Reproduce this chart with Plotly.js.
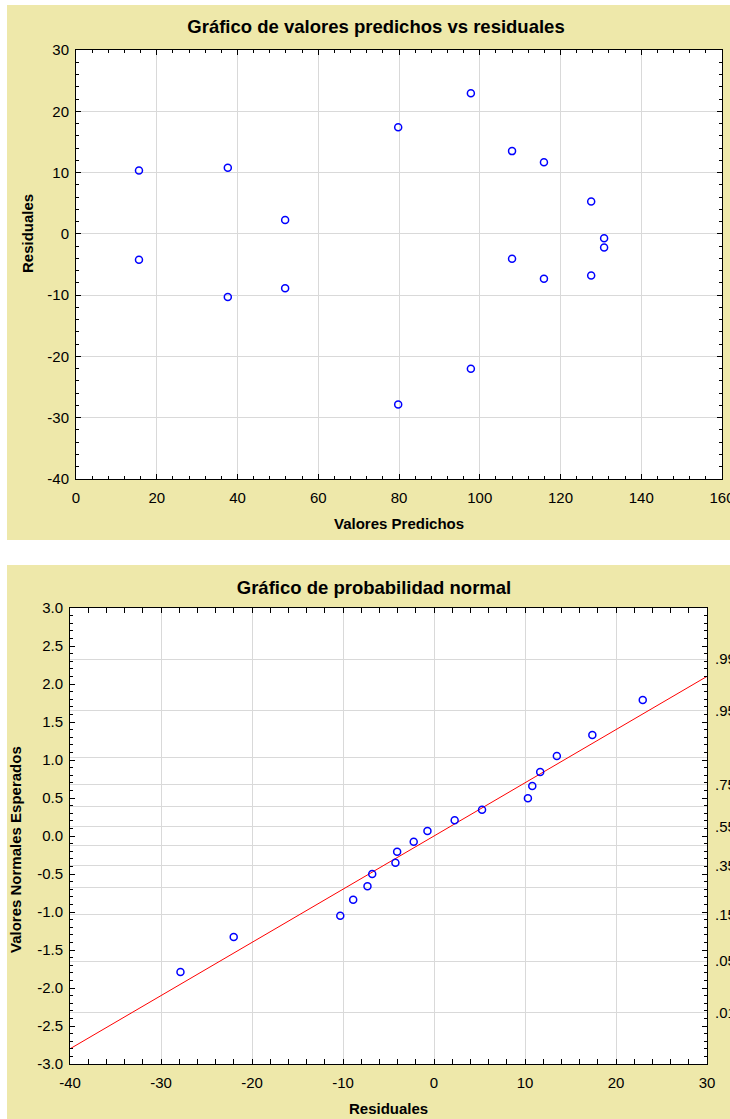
<!DOCTYPE html>
<html>
<head>
<meta charset="utf-8">
<script src="https://cdn.plot.ly/plotly-3.0.1.min.js"></script>
<style>
  html, body { margin:0; padding:0; background:#ffffff; overflow:hidden; width:730px; height:1119px; }
  #top { position:absolute; left:7px; top:5px; width:723px; height:535px; }
  #bottom { position:absolute; left:7px; top:565px; width:723px; height:554px; }
</style>
</head>
<body>
<div id="top"></div>
<div id="bottom"></div>
<script>
// ---- Data: predicted values vs residuals (top chart) ----
const predicted = [15.6, 15.6, 37.6, 37.6, 51.8, 51.8, 79.8, 79.8, 97.8, 97.8, 108.0, 108.0, 115.9, 115.9, 127.6, 127.6, 130.8, 130.8];
const residuals = [10.32, -4.24, 10.8, -10.3, 2.27, -8.88, 17.4, -27.86, 22.94, -22.01, 13.5, -4.05, 11.67, -7.31, 5.28, -6.79, -0.72, -2.23];

// ---- Data: normal probability plot (bottom chart) ----
const sortedResiduals = [-27.86, -22.01, -10.30, -8.88, -7.31, -6.79, -4.24, -4.05, -2.23, -0.72, 2.27, 5.28, 10.32, 10.8, 11.67, 13.5, 17.4, 22.94];
const expectedNormal = [-1.79, -1.33, -1.049, -0.838, -0.662, -0.50, -0.351, -0.207, -0.075, 0.066, 0.207, 0.346, 0.496, 0.658, 0.842, 1.053, 1.33, 1.79];
const fitLineX = [-40, 30];
const fitLineY = [-2.80, 2.10];

// ---- Tick labels ----
const topXTickVals = [0, 20, 40, 60, 80, 100, 120, 140, 160];
const topXTickText = ['0', '20', '40', '60', '80', '100', '120', '140', '160'];
const topYTickVals = [-40, -30, -20, -10, 0, 10, 20, 30];
const topYTickText = ['-40', '-30', '-20', '-10', '0', '10', '20', '30'];
const botXTickVals = [-40, -30, -20, -10, 0, 10, 20, 30];
const botXTickText = ['-40', '-30', '-20', '-10', '0', '10', '20', '30'];
const botYTickVals = [-3, -2.5, -2, -1.5, -1, -0.5, 0, 0.5, 1, 1.5, 2, 2.5, 3];
const botYTickText = ['-3.0', '-2.5', '-2.0', '-1.5', '-1.0', '-0.5', '0.0', '0.5', '1.0', '1.5', '2.0', '2.5', '3.0'];
const probTickVals = [2.3263, 1.6449, 1.0364, 0.6745, 0.3853, 0.1257, -0.1257, -0.3853, -0.6745, -1.0364, -1.6449, -2.3263];
const probTickText = ['.99', '.95', '', '.75', '', '.55', '', '.35', '', '.15', '.05', '.01'];

const BEIGE = '#eee8aa';
const GRID = '#d9d9d9';
const FONT = 'Liberation Sans, Arial, Helvetica, sans-serif';
const TICKSIZE = 15;
const AXTITLESIZE = 15;
const TITLESIZE = 18.5;

function axisBase(extra) {
  return Object.assign({
    ticks: 'inside', ticklen: 5, tickwidth: 1, tickcolor: '#000',
    showline: true, linecolor: '#000', linewidth: 1, mirror: 'allticks',
    showgrid: true, gridcolor: GRID, gridwidth: 1, zeroline: false,
    tickmode: 'array', fixedrange: true, automargin: false,
    ticklabeloverflow: 'allow',
    tickfont: { family: FONT, size: TICKSIZE, color: '#000' }
  }, extra);
}

// ---- Top chart ----
Plotly.newPlot('top', [{
  type: 'scatter', mode: 'markers',
  x: predicted, y: residuals,
  marker: { symbol: 'circle-open', size: 7, color: '#0000ff', line: { width: 1.5, color: '#0000ff' } },
  hoverinfo: 'skip'
}], {
  width: 723, height: 535,
  margin: { l: 69, r: 8, t: 45, b: 61 },
  paper_bgcolor: BEIGE, plot_bgcolor: '#ffffff',
  showlegend: false,
  font: { family: FONT, size: 13, color: '#000' },
  title: {
    text: '<b>Gráfico de valores predichos vs residuales</b>',
    xref: 'container', yref: 'container',
    x: (376 - 7) / 723, y: 1 - (27 - 5) / 535,
    xanchor: 'center', yanchor: 'middle',
    font: { family: FONT, size: TITLESIZE, color: '#000' }
  },
  xaxis: axisBase({
    range: [0, 160], tickvals: topXTickVals, ticktext: topXTickText,
    ticklabelstandoff: 5,
    minor: { tickmode: 'linear', tick0: 0, dtick: 4, ticks: 'inside', ticklen: 3, tickcolor: '#000', showgrid: false }
  }),
  yaxis: axisBase({
    range: [-40, 30], tickvals: topYTickVals, ticktext: topYTickText,
    ticklabelstandoff: 3,
    minor: { tickmode: 'linear', tick0: 0, dtick: 2, ticks: 'inside', ticklen: 3, tickcolor: '#000', showgrid: false }
  }),
  annotations: [
    { text: '<b>Valores Predichos</b>', xref: 'paper', yref: 'paper', x: 0.5, y: (479 - 523) / 429,
      xanchor: 'center', yanchor: 'middle', showarrow: false, font: { family: FONT, size: AXTITLESIZE, color: '#000' } },
    { text: '<b>Residuales</b>', xref: 'paper', yref: 'paper', x: (27 - 76) / 646, y: (479 - 234) / 429,
      xanchor: 'center', yanchor: 'middle', textangle: -90, showarrow: false, font: { family: FONT, size: AXTITLESIZE, color: '#000' } }
  ]
}, { staticPlot: true, displayModeBar: false });

// ---- Bottom chart ----
Plotly.newPlot('bottom', [{
  type: 'scatter', mode: 'none',
  x: fitLineX, y: fitLineY, yaxis: 'y2',
  hoverinfo: 'skip'
}, {
  type: 'scatter', mode: 'lines',
  x: fitLineX, y: fitLineY,
  line: { color: '#ff0000', width: 1 },
  hoverinfo: 'skip'
}, {
  type: 'scatter', mode: 'markers',
  x: sortedResiduals, y: expectedNormal,
  marker: { symbol: 'circle-open', size: 7, color: '#0000ff', line: { width: 1.5, color: '#0000ff' } },
  hoverinfo: 'skip'
}], {
  width: 723, height: 554,
  margin: { l: 63, r: 23, t: 43, b: 55 },
  paper_bgcolor: BEIGE, plot_bgcolor: '#ffffff',
  showlegend: false,
  font: { family: FONT, size: 13, color: '#000' },
  title: {
    text: '<b>Gráfico de probabilidad normal</b>',
    xref: 'container', yref: 'container',
    x: (374 - 7) / 723, y: 1 - (588 - 565) / 554,
    xanchor: 'center', yanchor: 'middle',
    font: { family: FONT, size: TITLESIZE, color: '#000' }
  },
  xaxis: axisBase({
    range: [-40, 30], tickvals: botXTickVals, ticktext: botXTickText,
    ticklabelstandoff: 5,
    minor: { tickmode: 'linear', tick0: 0, dtick: 2, ticks: 'inside', ticklen: 3, tickcolor: '#000', showgrid: false }
  }),
  yaxis: axisBase({
    range: [-3, 3], tickvals: botYTickVals, ticktext: botYTickText,
    showgrid: false, ticklabelstandoff: 3,
    minor: { tickmode: 'linear', tick0: 0, dtick: 0.1, ticks: 'inside', ticklen: 3, tickcolor: '#000', showgrid: false }
  }),
  yaxis2: {
    overlaying: 'y', side: 'right', anchor: 'x',
    range: [-3, 3], tickmode: 'array', tickvals: probTickVals, ticktext: probTickText,
    ticks: '', showline: false, zeroline: false,
    showgrid: true, gridcolor: GRID, gridwidth: 1,
    ticklabelstandoff: 7, fixedrange: true, ticklabeloverflow: 'allow',
    tickfont: { family: FONT, size: TICKSIZE, color: '#000' }
  },
  annotations: [
    { text: '<b>Residuales</b>', xref: 'paper', yref: 'paper', x: (388 - 70) / 637, y: (1064 - 1108) / 456,
      xanchor: 'center', yanchor: 'middle', showarrow: false, font: { family: FONT, size: AXTITLESIZE, color: '#000' } },
    { text: '<b>Valores Normales Esperados</b>', xref: 'paper', yref: 'paper', x: (15 - 70) / 637, y: (1064 - 850) / 456,
      xanchor: 'center', yanchor: 'middle', textangle: -90, showarrow: false, font: { family: FONT, size: AXTITLESIZE, color: '#000' } }
  ]
}, { staticPlot: true, displayModeBar: false });
</script>
</body>
</html>
